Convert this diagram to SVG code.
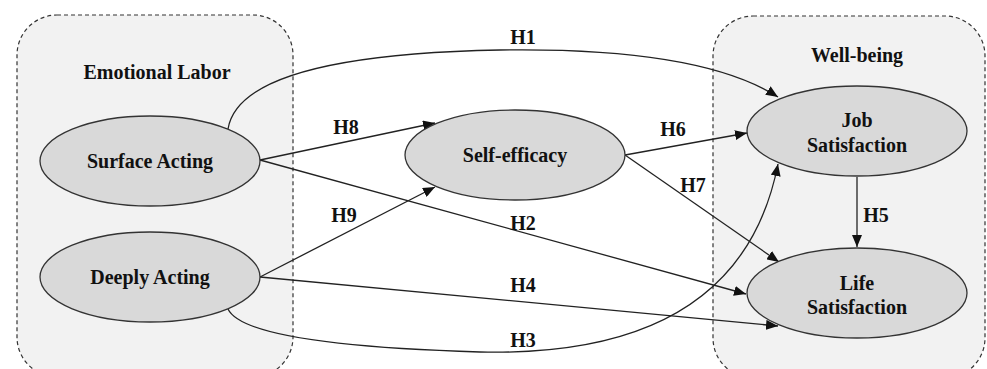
<svg xmlns="http://www.w3.org/2000/svg" width="987" height="369" viewBox="0 0 987 369">
<defs>
<marker id="arr" viewBox="0 0 12 10" refX="12" refY="5" markerWidth="12" markerHeight="10" markerUnits="userSpaceOnUse" orient="auto">
<path d="M0,0 L12,5 L0,10 z" fill="#111"/>
</marker>
<style>
.grp{fill:#f2f2f2;stroke:#333;stroke-width:1.2;stroke-dasharray:4 3}
.node{fill:#d9d9d9;stroke:#333;stroke-width:1.3}
.t{font-family:"Liberation Serif","Times New Roman",serif;font-weight:bold;font-size:20px;fill:#111;text-anchor:middle}
.e{fill:none;stroke:#222;stroke-width:1.3;marker-end:url(#arr)}
</style>
</defs>
<rect width="987" height="369" fill="#fff"/>
<g id="group-emotional-labor">
<rect class="grp" x="17" y="15" width="276" height="362" rx="40"/>
<text class="t" x="157" y="79">Emotional Labor</text>
</g>
<g id="group-well-being">
<rect class="grp" x="713" y="16" width="272" height="362" rx="40"/>
<text class="t" x="857" y="62">Well-being</text>
</g>
<g id="connectors">
<path class="e" d="M228,129 Q240,55 500,50 Q700,47 778,97"/>
<path class="e" d="M260,160 L435,123"/>
<path class="e" d="M260,160 L746,294"/>
<path class="e" d="M260,277 L435,187"/>
<path class="e" d="M260,277 L778,326"/>
<path class="e" d="M228,309 Q245,345 480,352 Q740,358 778,164"/>
<path class="e" d="M625,155 L747,133"/>
<path class="e" d="M625,155 L779,262"/>
<path class="e" d="M857,177 L857,247"/>
<text class="t" x="523" y="44">H1</text>
<text class="t" x="346" y="134">H8</text>
<text class="t" x="344" y="222">H9</text>
<text class="t" x="523" y="230">H2</text>
<text class="t" x="673" y="136">H6</text>
<text class="t" x="693" y="192">H7</text>
<text class="t" x="876" y="222">H5</text>
<text class="t" x="523" y="292">H4</text>
<text class="t" x="523" y="347">H3</text>
</g>
<g id="surface-acting">
<ellipse class="node" cx="150" cy="161" rx="110" ry="45"/>
<text class="t" x="150" y="168">Surface Acting</text>
</g>
<g id="deeply-acting">
<ellipse class="node" cx="150" cy="277" rx="110" ry="45"/>
<text class="t" x="150" y="284">Deeply Acting</text>
</g>
<g id="self-efficacy">
<ellipse class="node" cx="515" cy="155" rx="110" ry="45"/>
<text class="t" x="515" y="162">Self-efficacy</text>
</g>
<g id="job-satisfaction">
<ellipse class="node" cx="857" cy="131" rx="110" ry="45"/>
<text class="t" x="857" y="127">Job</text>
<text class="t" x="857" y="152">Satisfaction</text>
</g>
<g id="life-satisfaction">
<ellipse class="node" cx="857" cy="293" rx="110" ry="45"/>
<text class="t" x="857" y="290">Life</text>
<text class="t" x="857" y="314">Satisfaction</text>
</g>
</svg>
